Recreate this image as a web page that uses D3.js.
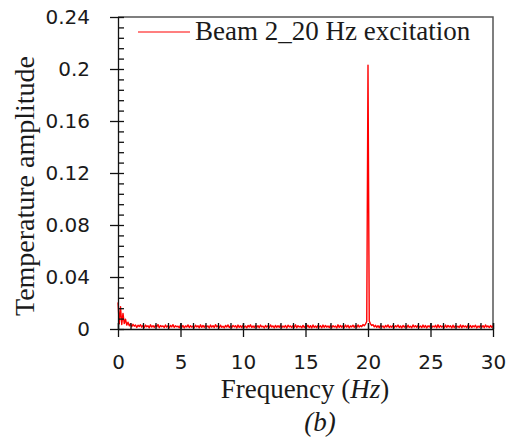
<!DOCTYPE html>
<html>
<head>
<meta charset="utf-8">
<script src="https://cdnjs.cloudflare.com/ajax/libs/d3/7.8.5/d3.min.js"></script>
<style>
  body { margin: 0; background: #fff; }
  .tickLabel text { font-family: "DejaVu Sans", Lato, sans-serif; font-size: 20px; fill: #1a1a1a; }
  .serif { font-family: "Liberation Serif", "Times New Roman", serif; font-size: 27px; fill: #1a1a1a; }
</style>
</head>
<body>
<script>
//chart data
var seriesName = "Beam 2_20 Hz excitation";
var freqStep = 0.1; //spectrum bin width (Hz), bins start at 0 Hz

//temperature amplitude for each 0.1 Hz bin, 0 .. 30 Hz
var amplitude = [
  0.0205, 0.0040, 0.0172, 0.0035, 0.0120, 0.0042, 0.0075, 0.0030, 0.0052, 0.0024,
  0.0041, 0.0018, 0.0036, 0.0022, 0.0031, 0.0012, 0.0029, 0.0019, 0.0033, 0.0014,
  0.0028, 0.0011, 0.0030, 0.0017, 0.0025, 0.0009, 0.0032, 0.0015, 0.0026, 0.0012,
  0.0029, 0.0016, 0.0034, 0.0010, 0.0027, 0.0018, 0.0024, 0.0011, 0.0031, 0.0014,
  0.0026, 0.0009, 0.0028, 0.0016, 0.0033, 0.0012, 0.0025, 0.0017, 0.0022, 0.0010,
  0.0030, 0.0013, 0.0027, 0.0008, 0.0024, 0.0015, 0.0031, 0.0011, 0.0026, 0.0014,
  0.0023, 0.0010, 0.0029, 0.0016, 0.0025, 0.0009, 0.0032, 0.0013, 0.0027, 0.0012,
  0.0028, 0.0015, 0.0024, 0.0008, 0.0030, 0.0014, 0.0026, 0.0011, 0.0033, 0.0016,
  0.0025, 0.0010, 0.0029, 0.0013, 0.0022, 0.0009, 0.0027, 0.0015, 0.0031, 0.0012,
  0.0024, 0.0011, 0.0028, 0.0016, 0.0026, 0.0008, 0.0030, 0.0013, 0.0025, 0.0010,
  0.0029, 0.0014, 0.0023, 0.0009, 0.0027, 0.0015, 0.0032, 0.0012, 0.0024, 0.0011,
  0.0028, 0.0013, 0.0025, 0.0010, 0.0030, 0.0016, 0.0022, 0.0008, 0.0027, 0.0014,
  0.0026, 0.0011, 0.0031, 0.0015, 0.0024, 0.0009, 0.0028, 0.0012, 0.0025, 0.0013,
  0.0030, 0.0010, 0.0023, 0.0014, 0.0027, 0.0008, 0.0029, 0.0016, 0.0024, 0.0011,
  0.0027, 0.0013, 0.0032, 0.0010, 0.0025, 0.0015, 0.0022, 0.0009, 0.0028, 0.0012,
  0.0024, 0.0014, 0.0029, 0.0011, 0.0026, 0.0008, 0.0031, 0.0013, 0.0023, 0.0010,
  0.0028, 0.0016, 0.0025, 0.0009, 0.0030, 0.0012, 0.0027, 0.0014, 0.0024, 0.0011,
  0.0029, 0.0010, 0.0026, 0.0015, 0.0023, 0.0008, 0.0032, 0.0013, 0.0027, 0.0012,
  0.0025, 0.0011, 0.0030, 0.0014, 0.0028, 0.0009, 0.0024, 0.0016, 0.0029, 0.0013,
  0.0027, 0.0012, 0.0031, 0.0015, 0.0026, 0.0018, 0.0034, 0.0025, 0.0038, 0.0058,
  0.2030, 0.0062, 0.0040, 0.0027, 0.0033, 0.0016, 0.0028, 0.0012, 0.0025, 0.0010,
  0.0029, 0.0014, 0.0024, 0.0009, 0.0027, 0.0015, 0.0031, 0.0011, 0.0023, 0.0013,
  0.0028, 0.0010, 0.0026, 0.0016, 0.0030, 0.0012, 0.0024, 0.0008, 0.0027, 0.0014,
  0.0025, 0.0011, 0.0029, 0.0013, 0.0022, 0.0009, 0.0031, 0.0015, 0.0026, 0.0012,
  0.0028, 0.0014, 0.0024, 0.0010, 0.0030, 0.0013, 0.0027, 0.0008, 0.0025, 0.0016,
  0.0029, 0.0011, 0.0023, 0.0015, 0.0028, 0.0009, 0.0032, 0.0012, 0.0026, 0.0014,
  0.0024, 0.0010, 0.0030, 0.0013, 0.0027, 0.0016, 0.0025, 0.0008, 0.0029, 0.0011,
  0.0026, 0.0014, 0.0022, 0.0012, 0.0031, 0.0009, 0.0028, 0.0015, 0.0024, 0.0010,
  0.0030, 0.0013, 0.0027, 0.0011, 0.0025, 0.0016, 0.0029, 0.0008, 0.0023, 0.0014,
  0.0028, 0.0012, 0.0026, 0.0010, 0.0031, 0.0015, 0.0024, 0.0011, 0.0027, 0.0013,
  0.0025
];

//axis ticks
var xTicks = [0, 5, 10, 15, 20, 25, 30];
var yTicks = [0, 0.04, 0.08, 0.12, 0.16, 0.2, 0.24];
var xMinorTicks = d3.range(0, 30.5, 1);
var yMinorTicks = d3.range(0, 0.2401, 0.008);

//global layout
var margin = {top: 17, left: 118, right: 24, bottom: 110};
var width = 517 - margin.left - margin.right;
var height = 439 - margin.top - margin.bottom;
var lineColor = "#ff0000";

var xScale = d3.scaleLinear( )
               .domain([0, 30])
               .range([0, width]);

var yScale = d3.scaleLinear( )
               .domain([0, 0.24])
               .range([height, 0]);

var _svg = d3.select("body")
             .append("svg")
             .attr("width", 517)
             .attr("height", 439);

var _g = _svg.append("g")
             .attr("transform", "translate(" + margin.left + "," + margin.top + ")");

    //top and right frame
    _g.append("path")
      .attr("d", "M 0 0 L " + width + " 0 L " + width + " " + height)
      .attr("fill", "none")
      .attr("stroke", "#555")
      .attr("stroke-width", 1.5);

    //spectrum line
    var line = d3.line( )
                 .x(function(d, i){ return xScale(i * freqStep); })
                 .y(function(d){ return yScale(d); });

    _g.append("path")
      .datum(amplitude)
      .attr("d", line)
      .attr("fill", "none")
      .attr("stroke", lineColor)
      .attr("stroke-width", 1.4)
      .attr("stroke-linejoin", "round");

    //minor (inside) ticks
    _g.append("g")
      .attr("transform", "translate(0," + height + ")")
      .call(d3.axisTop(xScale).tickValues(xMinorTicks).tickSize(6).tickSizeOuter(0).tickFormat(""))
      .call(function(g){ g.select(".domain").remove( ); });

    _g.append("g")
      .call(d3.axisRight(yScale).tickValues(yMinorTicks).tickSize(6).tickSizeOuter(0).tickFormat(""))
      .call(function(g){ g.select(".domain").remove( ); });

    //major axes with labels
    _g.append("g")
      .attr("class", "tickLabel")
      .attr("transform", "translate(0," + height + ")")
      .call(d3.axisBottom(xScale).tickValues(xTicks).tickSize(8).tickSizeOuter(0).tickPadding(18))
      .call(function(g){ g.selectAll("text").attr("font-family", null).attr("font-size", null); });

    _g.append("g")
      .attr("class", "tickLabel")
      .call(d3.axisLeft(yScale).tickValues(yTicks).tickSize(8).tickSizeOuter(0).tickPadding(20)
              .tickFormat(function(d){ return d3.format("")(+d.toFixed(2)); }))
      .call(function(g){ g.selectAll("text").attr("font-family", null).attr("font-size", null); });

    _g.selectAll(".domain").attr("stroke", "#111").attr("stroke-width", 1.3);
    _g.selectAll(".tick line").attr("stroke", "#111").attr("stroke-width", 1.3);

    //major ticks crossing inside the plot
    _g.append("g")
      .attr("transform", "translate(0," + height + ")")
      .call(d3.axisTop(xScale).tickValues(xTicks).tickSize(6).tickSizeOuter(0).tickFormat(""))
      .call(function(g){ g.select(".domain").remove( ); g.selectAll("line").attr("stroke", "#111").attr("stroke-width", 1.3); });

//legend
var legend = _svg.append("g");

    legend.append("line")
          .attr("x1", 138).attr("x2", 190)
          .attr("y1", 32).attr("y2", 32)
          .attr("stroke", lineColor)
          .attr("stroke-width", 1.2);

    legend.append("text")
          .attr("class", "serif")
          .attr("x", 195)
          .attr("y", 40)
          .text(seriesName);

//axis titles
var xTitle = _svg.append("text")
                 .attr("class", "serif")
                 .attr("text-anchor", "middle")
                 .attr("x", 305)
                 .attr("y", 398);
    xTitle.append("tspan").text("Frequency (");
    xTitle.append("tspan").attr("font-style", "italic").text("Hz");
    xTitle.append("tspan").text(")");

    _svg.append("text")
        .attr("class", "serif")
        .attr("text-anchor", "middle")
        .style("font-size", "28px")
        .attr("transform", "translate(34,186) rotate(-90)")
        .text("Temperature amplitude");

    _svg.append("text")
        .attr("class", "serif")
        .attr("text-anchor", "middle")
        .attr("font-style", "italic")
        .attr("x", 320)
        .attr("y", 431)
        .text("(b)");
</script>
</body>
</html>
